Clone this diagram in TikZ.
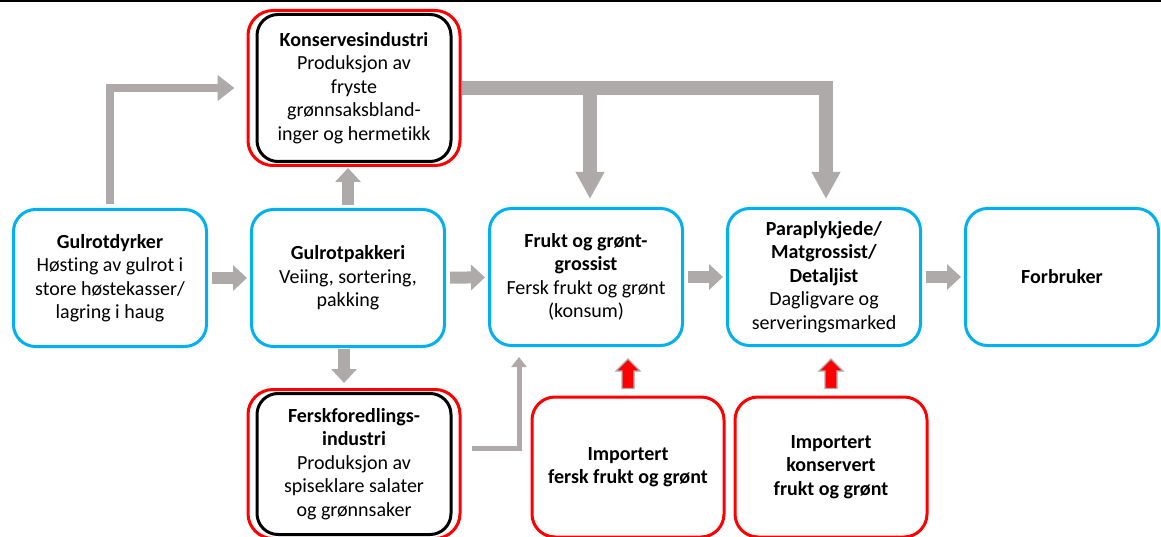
\documentclass[tikz,border=0pt]{standalone}
\usepackage{fontspec}
\setmainfont{Carlito}[Ligatures=NoCommon]
\usepackage{tikz}
\usetikzlibrary{arrows.meta, positioning, fit, calc}

\definecolor{stageblue}{HTML}{00B0F0}
\definecolor{flowgray}{HTML}{AEAAAA}
\definecolor{importred}{HTML}{FF0000}

\begin{document}
\begin{tikzpicture}[x=1pt,y=-1pt,on grid,node distance=238pt,
    font=\fontsize{20}{23.5}\selectfont,
    every node/.style={align=center},
    stage/.style={draw=stageblue,line width=3pt,rounded corners=22pt,minimum width=193pt,minimum height=137pt},
    industry/.style={draw=black,line width=3pt,rounded corners=21pt,minimum width=194pt},
    redframe/.style={draw=importred,line width=3pt,rounded corners=25pt,inner xsep=7.5pt,inner ysep=2.5pt},
    importbox/.style={draw=importred,line width=3pt,rounded corners=23pt,minimum width=192pt,minimum height=140pt},
    flowarrow/.style={draw=flowgray,line width=12pt,-{Triangle[length=14pt,width=25pt]},shorten <=4pt,shorten >=3pt},
    mainarrow/.style={draw=flowgray,line width=14pt,-{Triangle[length=27pt,width=27pt]}},
    sidearrow/.style={draw=flowgray,line width=8pt,-{Triangle[length=17pt,width=25pt]}},
    thinarrow/.style={draw=flowgray,line width=5pt,-{Triangle[length=10pt,width=15pt]}},
    redarrow/.style={fill=importred,draw=flowgray,line width=1.2pt}]

  \useasboundingbox (0,0) rectangle (1161,537);
  \fill (0,0) rectangle (1161,2.5);

  % value chain
  \node[stage] (dyrk) at (110,278) {\textbf{Gulrotdyrker}\\Høsting av gulrot i\\store høstekasser/\\lagring i haug};
  \node[stage] (pakk) [right=of dyrk] {\textbf{Gulrotpakkeri}\\Veiing, sortering,\\pakking};
  \node[stage] (frukt) [right=of pakk,yshift=1pt] {\textbf{Frukt og grønt-}\\\textbf{grossist}\\Fersk frukt og grønt\\(konsum)};
  \node[stage] (para) [right=of frukt] {\textbf{Paraplykjede/}\\\textbf{Matgrossist/}\\\textbf{Detaljist}\\Dagligvare og\\serveringsmarked};
  \node[stage] (forb) [right=of para] {\textbf{Forbruker}};

  % processing industry
  \node[industry,minimum height=147pt] (kons) [above=190pt of pakk,xshift=6pt] {\textbf{Konservesindustri}\\Produksjon av\\fryste\\grønnsaksbland-\\inger og hermetikk};
  \node[redframe,fit=(kons)] (konsR) {};
  \node[industry,minimum height=141pt] (fersk) [below=186pt of pakk,xshift=6pt] {\textbf{Ferskforedlings-}\\\textbf{industri}\\Produksjon av\\spiseklare salater\\og grønnsaker};
  \node[redframe,fit=(fersk)] (ferskR) {};

  % import
  \node[importbox] (impf) [below=190pt of frukt,xshift=42pt] {\textbf{Importert}\\\textbf{fersk frukt og grønt}};
  \node[importbox] (impk) [right=203pt of impf] {\textbf{Importert}\\\textbf{konservert}\\\textbf{frukt og grønt}};

  % flows
  \draw[flowarrow] (dyrk) -- (pakk);
  \draw[flowarrow] (pakk) -- (frukt);
  \draw[flowarrow] (frukt) -- (para);
  \draw[flowarrow] (para) -- (forb);
  \draw[flowarrow,shorten <=3pt,shorten >=1pt] (pakk.north) -- (pakk.north |- konsR.south);
  \draw[flowarrow,shorten <=1pt,shorten >=5pt] ([xshift=-4pt]pakk.south) -- ([xshift=-4pt]pakk.south |- ferskR.north);
  \draw[sidearrow,shorten <=4pt,shorten >=12pt] (dyrk.north) |- (konsR.west);

  \coordinate (tee) at ([xshift=4pt]frukt.north |- konsR.east);
  \draw[mainarrow,shorten >=8pt] (konsR.east) -| ([xshift=2pt]para.north);
  \draw[mainarrow,shorten >=8pt] (tee) -- (tee |- frukt.north);

  \draw[thinarrow,shorten <=10pt,shorten >=10pt] ([yshift=16pt]ferskR.east) -| ([xshift=31pt]frukt.south west);

  \draw[redarrow] let \p1=(impf.north), \p2=(frukt.south) in
    (\x1-6pt,\y1+7pt) -- (\x1-6pt,\y2-24pt) -- (\x1-12pt,\y2-24pt) -- (\x1,\y2-12pt)
    -- (\x1+12pt,\y2-24pt) -- (\x1+6pt,\y2-24pt) -- (\x1+6pt,\y1+7pt) -- cycle;
  \draw[redarrow] let \p1=(impk.north), \p2=(para.south) in
    (\x1-6pt,\y1+7pt) -- (\x1-6pt,\y2-24pt) -- (\x1-12pt,\y2-24pt) -- (\x1,\y2-12pt)
    -- (\x1+12pt,\y2-24pt) -- (\x1+6pt,\y2-24pt) -- (\x1+6pt,\y1+7pt) -- cycle;
\end{tikzpicture}
\end{document}
